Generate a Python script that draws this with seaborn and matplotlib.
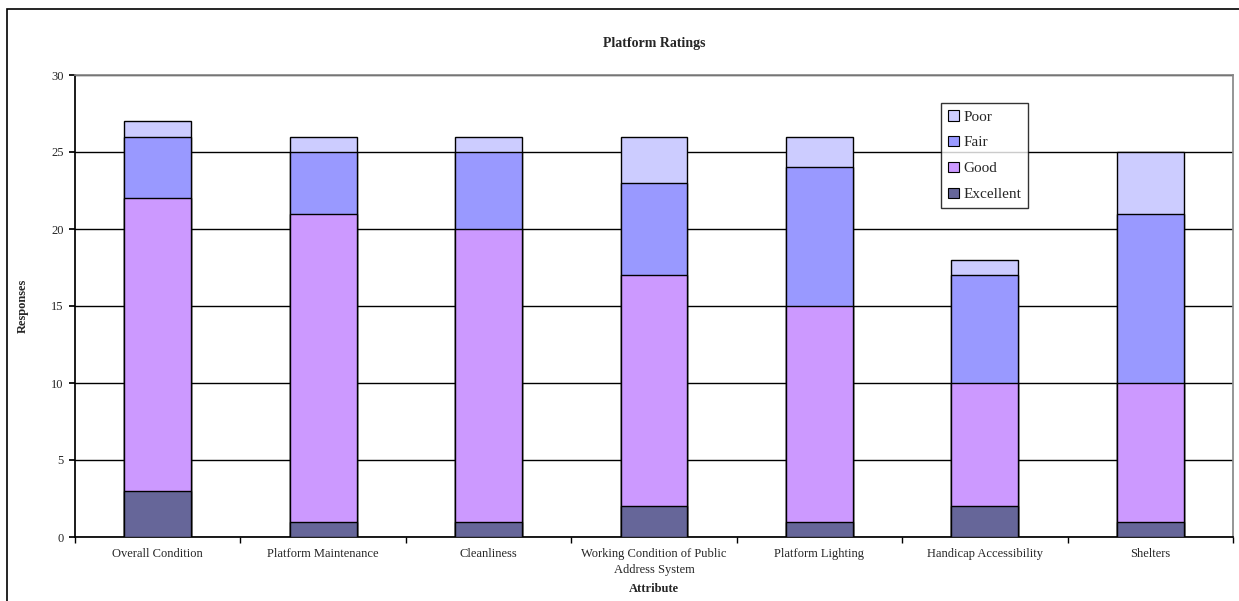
import numpy as np
import pandas as pd
import matplotlib
matplotlib.use("Agg")
import matplotlib.pyplot as plt
import seaborn as sns

categories = ["Overall Condition", "Platform Maintenance", "Cleanliness",
              "Working Condition of Public\nAddress System", "Platform Lighting",
              "Handicap Accessibility", "Shelters"]
excellent = [3, 1, 1, 2, 1, 2, 1]
good = [19, 20, 19, 15, 14, 8, 9]
fair = [4, 4, 5, 6, 9, 7, 11]
poor = [1, 1, 1, 3, 2, 1, 4]

series_names = ["Excellent", "Good", "Fair", "Poor"]
series_vals = [excellent, good, fair, poor]
colors = {"Excellent": "#666699", "Good": "#CC99FF", "Fair": "#9999FF", "Poor": "#CCCCFF"}

sns.set_theme(style="white")
plt.rcParams['font.family'] = ['Liberation Serif', 'DejaVu Serif']

fig = plt.figure(figsize=(12.39, 6.01), dpi=100)
ax = fig.add_axes([75/1239, 1-537/601, (1233-75)/1239, (537-75)/601])

cum = np.cumsum(np.array(series_vals), axis=0)
df = pd.DataFrame({"Attribute": categories})
for i in range(len(series_names) - 1, -1, -1):
    name = series_names[i]
    df["v"] = cum[i]
    sns.barplot(data=df, x="Attribute", y="v", color=colors[name], width=0.405,
                edgecolor="black", linewidth=1, saturation=1, ax=ax, label=name, zorder=3)

ax.set_ylim(0, 30)
ax.set_xlim(-0.5, len(categories) - 0.5)
ax.set_yticks(range(0, 31, 5))
ax.yaxis.grid(True, color="black", linewidth=1)
ax.set_axisbelow(True)
for s in ["top", "right"]:
    ax.spines[s].set_color("#888888")
for s in ["left", "bottom"]:
    ax.spines[s].set_color("black")
ax.tick_params(axis="y", which="both", left=True, length=4, color="black", labelsize=9, pad=4)
ax.tick_params(axis="x", which="major", bottom=False, labelsize=9, pad=2)
for lab in ax.get_xticklabels():
    lab.set_linespacing(1.45)
ax.set_xticks(np.arange(-0.5, len(categories) - 0.4, 1), minor=True)
ax.tick_params(axis="x", which="minor", bottom=True, length=4, color="black")

ax.set_ylabel("Responses", fontsize=9, fontweight="bold", labelpad=16)
ax.set_xlabel("Attribute", fontsize=9, fontweight="bold", labelpad=5)
ax.set_title("Platform Ratings", fontsize=10, fontweight="bold", pad=20)

leg = ax.legend(loc="upper left", bbox_to_anchor=((941-75)/1158, 1-(103-75)/462),
                fontsize=11, frameon=True, fancybox=False, edgecolor="black",
                handlelength=0.7, handleheight=0.7, handletextpad=0.3,
                borderpad=0.45, labelspacing=0.8, borderaxespad=0)
leg.get_frame().set_linewidth(1)
for h in leg.legend_handles:
    h.set_edgecolor("black")
    h.set_linewidth(0.8)

fig.patches.append(plt.Rectangle((7/1239, -0.1), 1.1, 1-9/601+0.1, transform=fig.transFigure,
                                 fill=False, edgecolor="black", linewidth=1.2))
fig.savefig("out.png", dpi=100)
